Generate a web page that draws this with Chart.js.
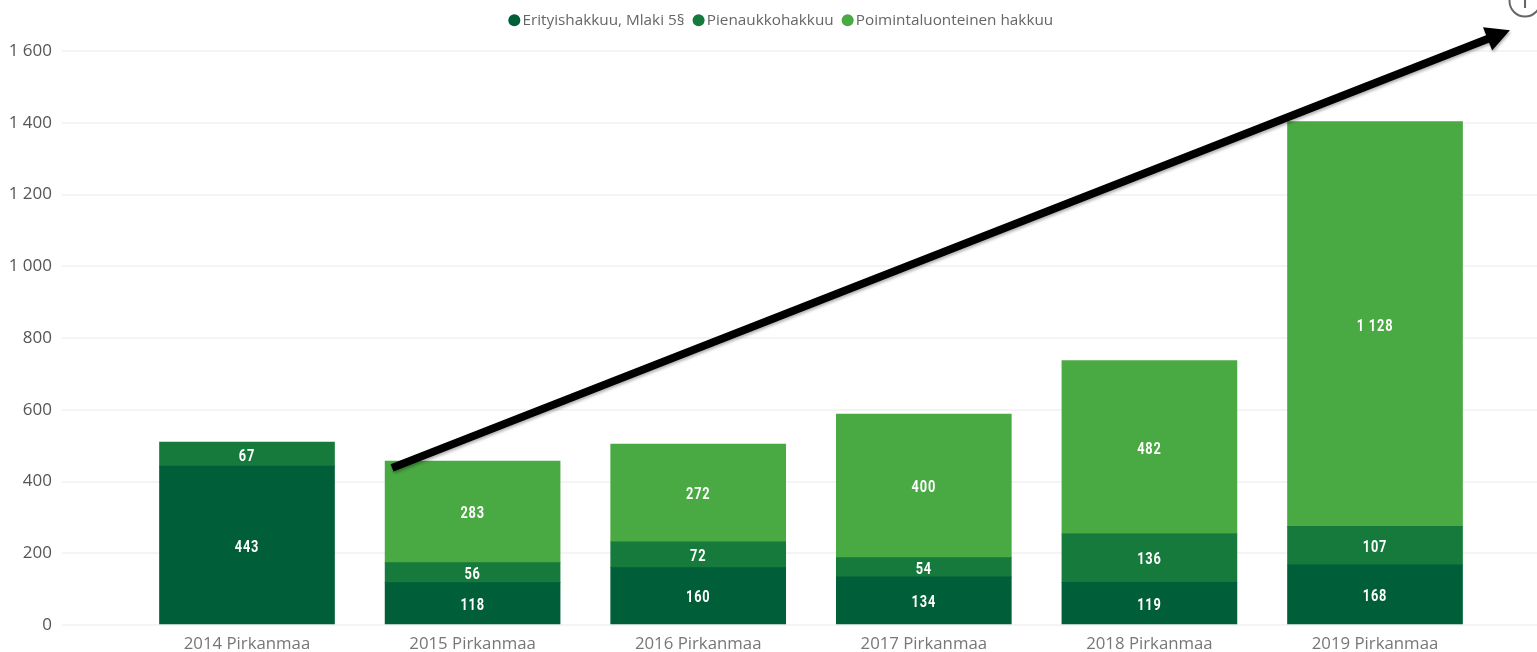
<!DOCTYPE html>
<html><head><meta charset="utf-8">
<style>html,body{margin:0;padding:0;background:#fff}#wrap{width:1537px;height:652px;overflow:hidden}canvas{display:block;filter:blur(0.6px)}</style>
<script src="https://cdn.jsdelivr.net/npm/chart.js@4/dist/chart.umd.min.js"></script>
</head><body><div id="wrap"><canvas id="c" width="1537" height="652"></canvas></div>
<script>
const categories=["2014 Pirkanmaa","2015 Pirkanmaa","2016 Pirkanmaa","2017 Pirkanmaa","2018 Pirkanmaa","2019 Pirkanmaa"];
const erityis=[443,118,160,134,119,168];
const pienaukko=[67,56,72,54,136,107];
const poiminta=[null,283,272,400,482,1128];
const seriesNames=["Erityishakkuu, Mlaki 5§","Pienaukkohakkuu","Poimintaluonteinen hakkuu"];
const seriesColors=["#005e38","#177a3d","#49a942"];
const yTicks=[0,200,400,600,800,1000,1200,1400,1600];
const arrowStart={x:0.643,y:438};
const arrowEnd={x:5.598,y:1658};

const fmt=v=>String(v).replace(/\B(?=(\d{3})+$)/g," ");
const toPts=a=>a.map((v,i)=>({x:i,y:v}));

const extras={id:'extras',
 beforeLayout(ch){
  const l=ch.legend;
  if(l&&!l._patched){
    const f=l.fit,dr=l.draw;
    l.fit=function(){f.call(this);this.height=51;};
    l.draw=function(){ch.ctx.save();ch.ctx.translate(15,-1);dr.call(this);ch.ctx.restore();};
    l._patched=true;
  }
 },
 afterDatasetsDraw(ch){
  const c=ch.ctx,sx=ch.scales.x,sy=ch.scales.y;
  const xs=0.8;
  ch.data.datasets.forEach((d,di)=>{
    ch.getDatasetMeta(di).data.forEach((el,i)=>{
      const v=d.data[i].y; if(v==null)return;
      c.save();c.fillStyle='#fff';c.font='700 16px "Roboto"';c.textAlign='center';c.textBaseline='middle';
      try{c.letterSpacing='1px'}catch(e){}
      c.translate(el.x,(el.y+el.base)/2+2.5);c.scale(xs,1);
      c.fillText(fmt(v),0,0);
      c.restore();
    });
  });
  const x0=sx.getPixelForValue(arrowStart.x),y0=sy.getPixelForValue(arrowStart.y),
        x1=sx.getPixelForValue(arrowEnd.x),y1=sy.getPixelForValue(arrowEnd.y);
  const a=Math.atan2(y1-y0,x1-x0),L=24,W=12.5,bx=x1-L*Math.cos(a),by=y1-L*Math.sin(a);
  c.save();c.shadowColor='rgba(0,0,0,.3)';c.shadowBlur=3;c.shadowOffsetX=1;c.shadowOffsetY=2;
  c.strokeStyle='#000';c.fillStyle='#000';c.lineWidth=8;
  c.beginPath();c.moveTo(x0,y0);c.lineTo(bx+4*Math.cos(a),by+4*Math.sin(a));c.stroke();
  c.beginPath();c.moveTo(x1,y1);
  c.lineTo(bx-W*Math.sin(a),by+W*Math.cos(a));
  c.lineTo(bx+W*Math.sin(a),by-W*Math.cos(a));c.closePath();c.fill();
  c.restore();
  c.save();c.strokeStyle='#666';c.lineWidth=2;
  c.beginPath();c.arc(1525,1,15.5,0,Math.PI*2);c.stroke();
  c.fillStyle='#666';c.font='600 18px "Open Sans"';c.textAlign='center';c.textBaseline='alphabetic';
  c.fillText('i',1525,8);
  c.restore();
 }};

new Chart(document.getElementById('c'),{
 type:'bar',
 data:{datasets:[erityis,pienaukko,poiminta].map((vals,i)=>({
   label:seriesNames[i],data:toPts(vals),backgroundColor:seriesColors[i],
   borderWidth:0,barThickness:175,pointStyle:'circle'}))},
 options:{responsive:false,animation:false,
  layout:{padding:0},
  plugins:{tooltip:{enabled:false},
   legend:{position:'top',align:'center',
    labels:{usePointStyle:true,pointStyle:'circle',boxWidth:1,boxHeight:8.5,padding:13.5,color:'#666',
     font:{family:'"Open Sans"',size:15.3}},
    onClick:null}},
  scales:{
   x:{type:'linear',stacked:true,offset:false,min:-0.82,max:5.718,
    afterBuildTicks(s){s.ticks=categories.map((_,i)=>({value:i}))},
    afterFit(s){s.height=27},
    grid:{display:false},border:{display:false},
    ticks:{autoSkip:false,maxRotation:0,padding:1,color:'#777',font:{family:'"Open Sans"',size:16.8},
      callback:v=>categories[v]}},
   y:{stacked:true,min:0,max:1600,
    afterBuildTicks(s){s.ticks=yTicks.map(v=>({value:v}))},
    afterFit(s){s.width=62},
    grid:{color:'#f4f4f4',lineWidth:2,drawTicks:false},border:{display:false},
    ticks:{padding:10,color:'#555',font:{family:'"Open Sans"',size:17},callback:v=>fmt(v)}}
  }},
 plugins:[extras]});
</script></body></html>
